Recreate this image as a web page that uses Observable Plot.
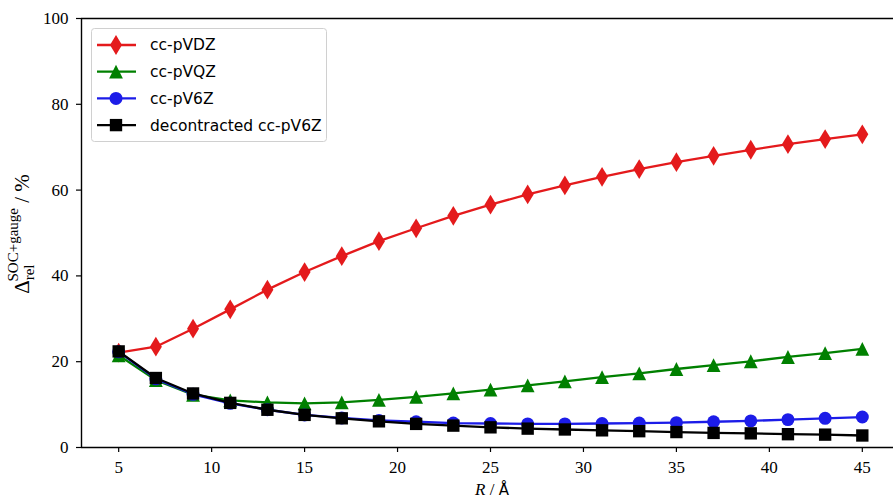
<!DOCTYPE html>
<html><head><meta charset="utf-8">
<script src="https://cdn.jsdelivr.net/npm/d3@7"></script>
<script src="https://cdn.jsdelivr.net/npm/@observablehq/plot@0.6"></script>
<style>body{margin:0;background:#fff;overflow:hidden}</style>
</head><body><div id="chart"></div>
<script>
const R = [5,7,9,11,13,15,17,19,21,23,25,27,29,31,33,35,37,39,41,43,45];
const seriesNames = ["cc-pVDZ","cc-pVQZ","cc-pV6Z","decontracted cc-pV6Z"];
const ccpVDZ = [22.1,23.5,27.7,32.2,36.8,40.9,44.6,48.1,51.1,54.0,56.6,59.0,61.1,63.1,64.9,66.5,68.0,69.4,70.7,71.9,73.0];
const ccpVQZ = [21.5,15.7,12.3,11.0,10.5,10.3,10.5,11.1,11.8,12.6,13.5,14.5,15.4,16.4,17.3,18.3,19.2,20.1,21.1,22.0,23.0];
const ccpV6Z = [22.3,16.0,12.4,10.3,8.8,7.6,6.9,6.3,6.0,5.7,5.6,5.5,5.5,5.6,5.7,5.8,6.0,6.2,6.5,6.8,7.1];
const decontracted = [22.4,16.2,12.6,10.4,8.8,7.6,6.8,6.1,5.5,5.1,4.7,4.4,4.2,4.0,3.8,3.6,3.4,3.3,3.1,3.0,2.8];
const xTicks = [5,10,15,20,25,30,35,40,45];
const yTicks = [0,20,40,60,80,100];
const colors = ["#e41a1c","#008000","#1c1ce8","#000000"];

// custom marker shapes (matplotlib-like: thin diamond, triangle, circle, square)
const thinDiamond = {draw(ctx, size){const r=Math.sqrt(size/Math.PI);const w=r*1.0,h=r*1.65;ctx.moveTo(0,-h);ctx.lineTo(w,0);ctx.lineTo(0,h);ctx.lineTo(-w,0);ctx.closePath();}};
const triUp = {draw(ctx, size){const r=Math.sqrt(size/Math.PI);const w=r*1.15,h=r*1.15;ctx.moveTo(0,-h);ctx.lineTo(w,h);ctx.lineTo(-w,h);ctx.closePath();}};
const circ = {draw(ctx, size){const r=Math.sqrt(size/Math.PI)*1.08;ctx.moveTo(r,0);ctx.arc(0,0,r,0,2*Math.PI);ctx.closePath();}};
const sq = {draw(ctx, size){const r=Math.sqrt(size/Math.PI)*1.03;ctx.rect(-r,-r,2*r,2*r);}};
const symbols = [thinDiamond, triUp, circ, sq];

const allValues = [ccpVDZ, ccpVQZ, ccpV6Z, decontracted];
const series = seriesNames.map((name,i)=>({name, color:colors[i], symbol:symbols[i],
  data: R.map((r,j)=>({R:r, v:allValues[i][j]}))}));

const marks = [];
for (const s of series) {
  marks.push(Plot.line(s.data, {x:"R", y:"v", stroke:s.color, strokeWidth:2.3}));
  marks.push(Plot.dot(s.data, {x:"R", y:"v", fill:s.color, stroke:"none", r:6, symbol:s.symbol}));
}

const plot = Plot.plot({
  width: 893, height: 502,
  marginTop: 18, marginBottom: 55, marginLeft: 81, marginRight: 0,
  style: {fontFamily: "'Liberation Serif', serif", fontSize: "17px", background: "#fff", overflow: "visible"},
  x: {domain: [3, 47], range: [81, 899], ticks: xTicks, label: null},
  y: {domain: [0, 100], ticks: yTicks, label: null},
  marks: [
    ...marks,
    Plot.ruleY([0], {stroke: "#000", strokeWidth: 1.4}),
    Plot.ruleY([100], {stroke: "#000", strokeWidth: 1.4}),
    Plot.ruleX([3], {stroke: "#000", strokeWidth: 1.4}),
    Plot.axisX({ticks: xTicks, tickSize: 5, tickPadding: 8, label: null, stroke: "#000", strokeWidth: 1.2, fontSize: 17}),
    Plot.axisY({ticks: yTicks, tickSize: 5, tickPadding: 8, label: null, stroke: "#000", strokeWidth: 1.2, fontSize: 17})
  ]
});
document.getElementById("chart").appendChild(plot);

const svg = d3.select(plot);
// y label
const yl = svg.append("text")
  .attr("transform", "translate(29,234) rotate(-90)")
  .attr("text-anchor", "middle")
  .style("font-family", "'Liberation Serif', serif").style("font-size", "21px").attr("fill", "#000");
yl.append("tspan").text("Δ");
yl.append("tspan").attr("dy", 5).style("font-size", "15px").text("rel");
yl.append("tspan").attr("dx", -17).attr("dy", -16).style("font-size", "15px").text("SOC+gauge");
yl.append("tspan").attr("dy", 11).text(" / %");

// x label
const xl = svg.append("text")
  .attr("x", 492).attr("y", 495).attr("text-anchor", "middle")
  .style("font-family", "'Liberation Serif', serif").style("font-size", "17px").attr("fill", "#000");
xl.append("tspan").style("font-style", "italic").text("R");
xl.append("tspan").text(" / ");
xl.append("tspan").style("font-family", "'DejaVu Sans', sans-serif").style("font-size","15px").text("Å");

// legend
const lg = svg.append("g");
lg.append("rect").attr("x", 91.5).attr("y", 28.5).attr("width", 235).attr("height", 113)
  .attr("rx", 3).attr("fill", "#fff").attr("fill-opacity", 0.8).attr("stroke", "#d0d0d0");
series.forEach((s, i) => {
  const y = 45 + i * 26.7;
  lg.append("line").attr("x1", 97).attr("x2", 136).attr("y1", y).attr("y2", y)
    .attr("stroke", s.color).attr("stroke-width", 2.3);
  lg.append("path").attr("transform", `translate(116,${y})`)
    .attr("d", d3.symbol(s.symbol, 36 * Math.PI)()).attr("fill", s.color);
  lg.append("text").attr("x", 150).attr("y", y).attr("dy", "0.35em").attr("text-anchor", "start")
    .style("font-family", "'DejaVu Sans', sans-serif").style("font-size", "15.5px")
    .attr("fill", "#000").text(s.name);
});
</script>
</body></html>
